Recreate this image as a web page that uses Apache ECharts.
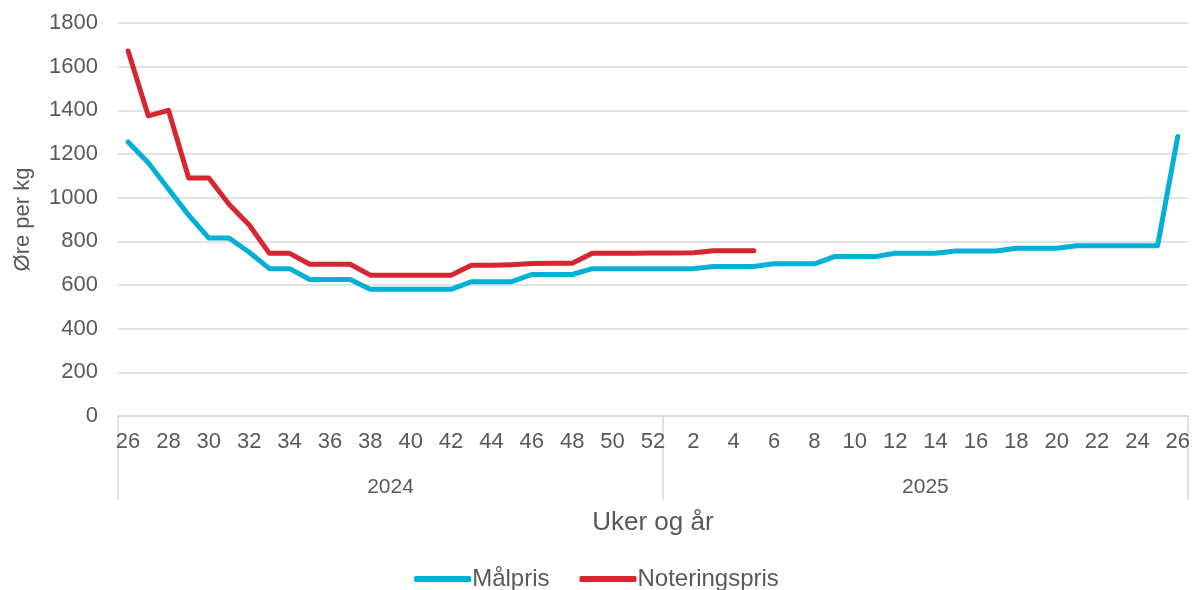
<!DOCTYPE html>
<html>
<head>
<meta charset="utf-8">
<script src="https://cdn.jsdelivr.net/npm/echarts@6/dist/echarts.min.js"></script>
<style>
  html, body { margin: 0; padding: 0; background: #fff; }
  #chart { width: 1193px; height: 590px; }
</style>
</head>
<body>
<div id="chart"></div>
<script>
// Week labels (2024 wk 26-52, 2025 wk 1-26)
const weeks = [
  '26','27','28','29','30','31','32','33','34','35','36','37','38','39','40','41','42','43','44','45','46','47','48','49','50','51','52',
  '1','2','3','4','5','6','7','8','9','10','11','12','13','14','15','16','17','18','19','20','21','22','23','24','25','26'
];
const years = ['2024', '2025'];

// Målpris (øre per kg)
const malpris = [
  1255, 1160, 1040, 920, 815, 815, 750, 675, 675, 625, 625, 625, 580, 580, 580, 580, 580, 615, 615, 615, 648, 648, 648,
  675, 675, 675, 675, 675, 675, 685, 685, 685, 697, 697, 697, 730, 730, 730, 745, 745, 745,
  756, 756, 756, 768, 768, 768, 780, 780, 780, 780, 780, 1280
];

// Noteringspris (øre per kg), ends at week 5 of 2025
const noteringspris = [
  1672, 1375, 1400, 1090, 1090, 970, 875, 745, 745, 695, 695, 695, 645, 645, 645, 645, 645, 690, 690, 693, 698, 700, 700,
  745, 745, 745, 746, 747, 748, 757, 757, 757
];

const textColor = '#595959';
const gridColor = '#d9d9d9';
const font = 'Liberation Sans, Arial, sans-serif';

const chart = echarts.init(document.getElementById('chart'));
chart.setOption({
  animation: false,
  textStyle: { fontFamily: font, color: textColor },
  grid: { left: 118, right: 5, top: 23, bottom: 174 },
  legend: {
    bottom: -6,
    left: 'center',
    itemWidth: 57,
    itemHeight: 6,
    itemGap: 30,
    icon: 'roundRect',
    textStyle: { fontSize: 24, color: textColor, fontFamily: font, padding: [0, 0, 0, -4] },
    data: ['Målpris', 'Noteringspris']
  },
  xAxis: [
    {
      type: 'category',
      data: weeks,
      boundaryGap: true,
      axisLine: { show: true, lineStyle: { color: gridColor, width: 1.5 } },
      axisTick: { show: false },
      axisLabel: { interval: 1, fontSize: 22, color: textColor, margin: 15, fontFamily: font },
      name: 'Uker og år',
      nameLocation: 'middle',
      nameGap: 94,
      nameMoveOverlap: false,
      nameTextStyle: { fontSize: 26, color: textColor, fontFamily: font }
    },
    {
      // second level: years with separators
      type: 'value',
      position: 'bottom',
      min: 0,
      max: weeks.length,
      axisLine: { show: false },
      splitLine: { show: false },
      axisTick: {
        show: true,
        customValues: [0, 27, weeks.length],
        length: 84,
        lineStyle: { color: gridColor, width: 1.5 }
      },
      axisLabel: {
        customValues: [13.5, 40],
        formatter: function (v) { return v < 27 ? years[0] : years[1]; },
        fontSize: 21,
        color: textColor,
        margin: 61,
        fontFamily: font
      }
    }
  ],
  yAxis: {
    type: 'value',
    min: 0,
    max: 1800,
    interval: 200,
    axisLine: { show: false },
    axisTick: { show: false },
    axisLabel: {
      fontSize: 22, color: textColor, margin: 20, fontFamily: font,
      formatter: function (v) { return String(v); }
    },
    splitLine: { lineStyle: { color: gridColor, width: 1.5 } },
    name: 'Øre per kg',
    nameLocation: 'middle',
    nameGap: 84,
    nameMoveOverlap: false,
    nameTextStyle: { fontSize: 22, color: textColor, fontFamily: font }
  },
  series: [
    {
      name: 'Målpris',
      type: 'line',
      data: malpris,
      symbol: 'none',
      color: '#00b0d6',
      lineStyle: { width: 5, cap: 'round', join: 'round' }
    },
    {
      name: 'Noteringspris',
      type: 'line',
      data: noteringspris,
      symbol: 'none',
      color: '#d62631',
      lineStyle: { width: 5, cap: 'round', join: 'round' }
    }
  ]
});
</script>
</body>
</html>
